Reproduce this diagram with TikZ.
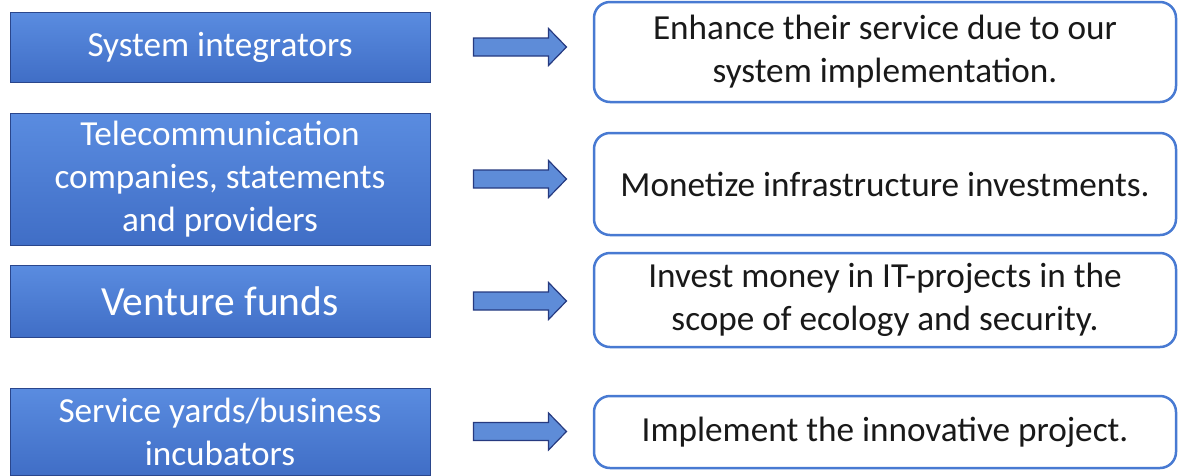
\documentclass[tikz,border=0pt]{standalone}
\usepackage{fontspec}
\setmainfont{Carlito}
\usetikzlibrary{calc}

\definecolor{boxtop}{RGB}{90,140,224}
\definecolor{boxbottom}{RGB}{64,110,198}
\definecolor{boxedge}{RGB}{42,70,140}
\definecolor{arrowfill}{RGB}{94,140,216}
\definecolor{arrowedge}{RGB}{38,58,128}
\definecolor{goaledge}{RGB}{72,122,210}

\tikzset{
	partner/.style = {draw = boxedge, line width = 1pt, top color = boxtop, bottom color = boxbottom,
		minimum width = 420pt, text = white, align = center, inner sep = 0pt,
		font = \fontsize{35.2}{43}\selectfont},
	goal/.style = {draw = goaledge, line width = 2.5pt, rounded corners = 16pt, fill = white,
		minimum width = 582pt, text = black!90, align = center, inner sep = 0pt,
		font = \fontsize{35.2}{43}\selectfont},
	fatarrow/.style = {draw = arrowedge, line width = 1.2pt, fill = arrowfill, line join = miter}
}

\begin{document}
\begin{tikzpicture}[x = 1pt, y = -1pt]
			\def\shaft{9};
			\def\head{18.5};
			\def\tip{18};
			
			\useasboundingbox (0,0) rectangle (1178,475);
			
			\node [partner, minimum height = 70pt] (integrators) at (220,47) {System integrators};
			\node [partner, minimum height = 132pt] (telecom) at (220,179) {Telecommunication\\companies, statements\\and providers};
			\node [partner, minimum height = 72pt, font = \fontsize{41.5}{49}\selectfont] (venture) at (220,301) {Venture funds};
			\node [partner, minimum height = 87pt] (incubators) at (220,431.5) {Service yards/business\\incubators};
			
			\node [goal, minimum height = 100pt] (enhance) at (885,52) {Enhance their service due to our\\system implementation.};
			\node [goal, minimum height = 102pt] (monetize) at (885,184) {Monetize infrastructure investments.};
			\node [goal, minimum height = 94pt] (invest) at (885,300) {Invest money in IT-projects in the\\scope of ecology and security.};
			\node [goal, minimum height = 72pt] (implement) at (885,432) {Implement the innovative project.};
			
			\foreach \n in {integrators, telecom, venture, incubators} {
				\coordinate (s) at ([xshift = 43pt] \n.east);
				\coordinate (e) at ([xshift = 136pt] \n.east);
				\draw [fatarrow]
					($(s) + (0,-\shaft)$) -- ($(e) + (-\tip,-\shaft)$) -- ($(e) + (-\tip,-\head)$)
					-- (e) -- ($(e) + (-\tip,\head)$) -- ($(e) + (-\tip,\shaft)$) -- ($(s) + (0,\shaft)$) -- cycle;
			}
		\end{tikzpicture}
\end{document}
